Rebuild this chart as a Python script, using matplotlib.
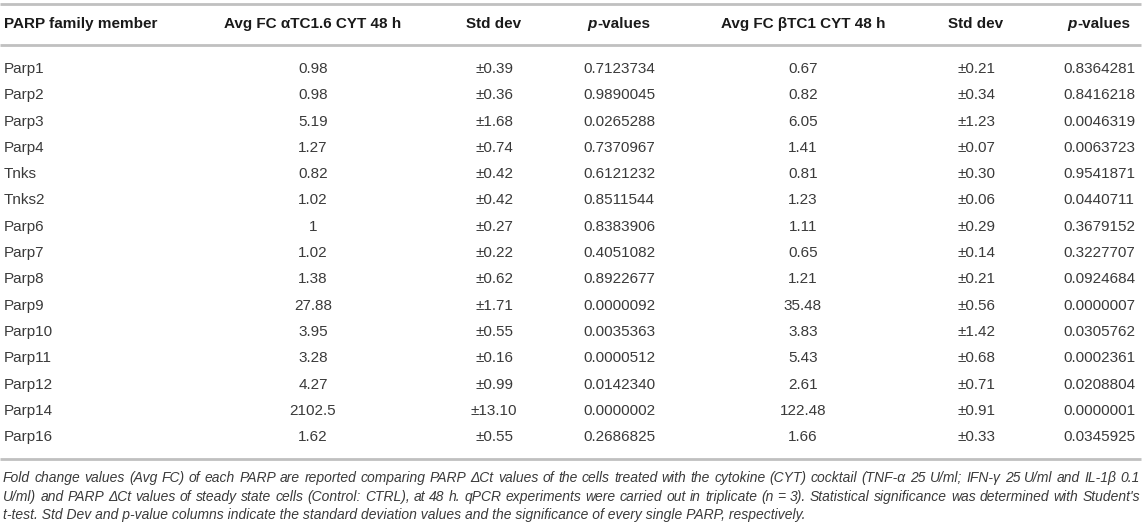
import matplotlib
matplotlib.use("Agg")
import matplotlib.pyplot as plt

plt.rcParams['font.family'] = ['Liberation Sans', 'DejaVu Sans']

# table data
members = ["Parp1", "Parp2", "Parp3", "Parp4", "Tnks", "Tnks2", "Parp6", "Parp7",
           "Parp8", "Parp9", "Parp10", "Parp11", "Parp12", "Parp14", "Parp16"]
fc_alpha = ["0.98", "0.98", "5.19", "1.27", "0.82", "1.02", "1", "1.02", "1.38",
            "27.88", "3.95", "3.28", "4.27", "2102.5", "1.62"]
sd_alpha = ["0.39", "0.36", "1.68", "0.74", "0.42", "0.42", "0.27", "0.22", "0.62",
            "1.71", "0.55", "0.16", "0.99", "13.10", "0.55"]
p_alpha = ["0.7123734", "0.9890045", "0.0265288", "0.7370967", "0.6121232", "0.8511544",
           "0.8383906", "0.4051082", "0.8922677", "0.0000092", "0.0035363", "0.0000512",
           "0.0142340", "0.0000002", "0.2686825"]
fc_beta = ["0.67", "0.82", "6.05", "1.41", "0.81", "1.23", "1.11", "0.65", "1.21",
           "35.48", "3.83", "5.43", "2.61", "122.48", "1.66"]
sd_beta = ["0.21", "0.34", "1.23", "0.07", "0.30", "0.06", "0.29", "0.14", "0.21",
           "0.56", "1.42", "0.68", "0.71", "0.91", "0.33"]
p_beta = ["0.8364281", "0.8416218", "0.0046319", "0.0063723", "0.9541871", "0.0440711",
          "0.3679152", "0.3227707", "0.0924684", "0.0000007", "0.0305762", "0.0002361",
          "0.0208804", "0.0000001", "0.0345925"]

headers = ["PARP family member", "Avg FC \u03b1TC1.6 CYT 48 h", "Std dev", "p-values",
           "Avg FC \u03b2TC1 CYT 48 h", "Std dev", "p-values"]

footnote = [
    "Fold change values (Avg FC) of each PARP are reported comparing PARP \u0394Ct values of the cells treated with the cytokine (CYT) cocktail (TNF-\u03b1 25 U/ml; IFN-\u03b3 25 U/ml and IL-1\u03b2 0.1",
    "U/ml) and PARP \u0394Ct values of steady state cells (Control: CTRL), at 48 h. qPCR experiments were carried out in triplicate (n = 3). Statistical significance was determined with Student's",
    "t-test. Std Dev and p-value columns indicate the standard deviation values and the significance of every single PARP, respectively.",
]

# layout (pixels)
W, H = 1144, 527
col_x = [4, 313, 494, 619, 803, 976, 1099]
header_y = 24
row0, row_h = 69, 26.3
line_col = '#c0c0c0'
txt_col = '#3a3a3a'

fig = plt.figure(figsize=(W / 100, H / 100), dpi=100)
ax = fig.add_axes([0, 0, 1, 1])
ax.set_xlim(0, W)
ax.set_ylim(H, 0)
ax.axis('off')
renderer = fig.canvas.get_renderer()


def text_width(t):
    bb = t.get_window_extent(renderer=renderer)
    return bb.width


# rules
for yy in [4, 45, 459]:
    ax.plot([0, 1141], [yy, yy], color=line_col, lw=2, solid_capstyle='butt')

# header
for i, h in enumerate(headers):
    if h == "p-values":
        t1 = ax.text(0, header_y, "p", fontsize=11, fontweight='bold', style='italic',
                     va='center', ha='left', color='#1a1a1a')
        t2 = ax.text(0, header_y, "-values", fontsize=11, fontweight='bold',
                     va='center', ha='left', color='#1a1a1a')
        w1, w2 = text_width(t1), text_width(t2)
        x0 = col_x[i] - (w1 + w2) / 2
        t1.set_x(x0)
        t2.set_x(x0 + w1)
    else:
        ax.text(col_x[i], header_y, h, fontsize=11, fontweight='bold', va='center',
                ha='left' if i == 0 else 'center', color='#1a1a1a')

# body
columns = [members, fc_alpha, ["\u00b1" + s for s in sd_alpha], p_alpha,
           fc_beta, ["\u00b1" + s for s in sd_beta], p_beta]
for ci, col in enumerate(columns):
    for ri, val in enumerate(col):
        ax.text(col_x[ci], row0 + ri * row_h, val, fontsize=11, va='center',
                ha='left' if ci == 0 else 'center', color=txt_col)

# footnote, first two lines justified
foot_y = [478, 497, 515]
left, right = 3, 1140
for li, line in enumerate(footnote):
    if li < 2:
        words = line.split(" ")
        objs = [ax.text(0, foot_y[li], w, fontsize=10, style='italic', va='center',
                        ha='left', color=txt_col) for w in words]
        widths = [text_width(o) for o in objs]
        gap = (right - left - sum(widths)) / (len(words) - 1)
        x = left
        for o, w in zip(objs, widths):
            o.set_x(x)
            x += w + gap
    else:
        ax.text(left, foot_y[li], line, fontsize=10, style='italic', va='center',
                ha='left', color=txt_col)

fig.savefig("out.png", dpi=100)
